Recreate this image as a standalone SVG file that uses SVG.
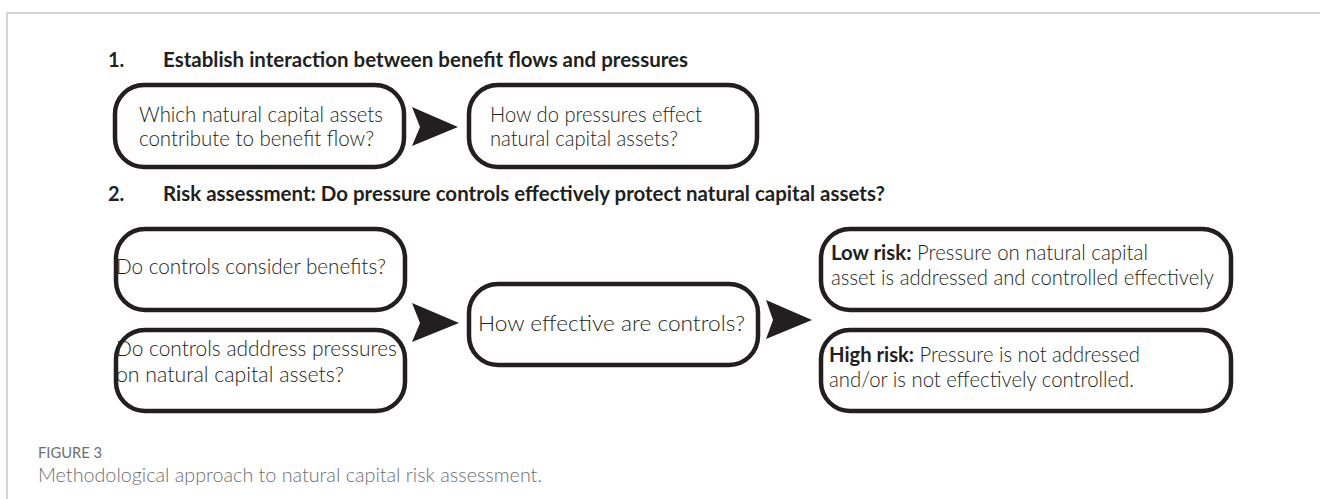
<svg xmlns="http://www.w3.org/2000/svg" width="1320" height="499" viewBox="0 0 1320 499">
<style>
.box{fill:#fff;stroke:#231f20;stroke-width:4.5}
.arr{fill:#231f20}
.t{font-family:Lato,"Open Sans","Liberation Sans",sans-serif;font-weight:300;font-size:21.5px;fill:#231f20}
.h{font-family:Lato,"Liberation Sans",sans-serif;font-weight:700;font-size:20px;fill:#231f20}
.b{font-weight:700}
.cap1{font-family:Lato,"Liberation Sans",sans-serif;font-weight:400;font-size:15px;fill:#6d6e70}
.cap2{font-family:Lato,"Liberation Sans",sans-serif;font-weight:300;font-size:19.5px;fill:#6d6e70}
</style>
<g id="frame"><path d="M7 499V13H1320" fill="none" stroke="#c8c8c8" stroke-width="1.5"/></g>
<g id="heading1"><text class="h" x="108" y="67">1.</text><text class="h" x="163" y="67" textLength="525" lengthAdjust="spacingAndGlyphs">Establish interaction between benefit flows and pressures</text></g>
<g id="heading2"><text class="h" x="108" y="201">2.</text><text class="h" x="163" y="201" textLength="722" lengthAdjust="spacingAndGlyphs">Risk assessment: Do pressure controls effectively protect natural capital assets?</text></g>
<g id="connectors">
<polygon class="arr" points="412,107 458,127 412,146 420,127"/>
<polygon class="arr" points="412,303 459,323 412,342 420,323"/>
<polygon class="arr" points="766,300 812,320 766,339 773,320"/>
</g>
<g id="n1"><rect class="box" x="115" y="85" width="289" height="82" rx="29"/>
<text class="t" x="139" y="122" textLength="244" lengthAdjust="spacingAndGlyphs">Which natural capital assets</text>
<text class="t" x="139" y="146" textLength="235" lengthAdjust="spacingAndGlyphs">contribute to benefit flow?</text></g>
<g id="n2"><rect class="box" x="469" y="85" width="288" height="82" rx="29"/>
<text class="t" x="490" y="122" textLength="212" lengthAdjust="spacingAndGlyphs">How do pressures effect</text>
<text class="t" x="490" y="146" textLength="188" lengthAdjust="spacingAndGlyphs">natural capital assets?</text></g>
<g id="n3"><rect class="box" x="116" y="229" width="289" height="81" rx="29"/>
<text class="t" x="116" y="274" textLength="270" lengthAdjust="spacingAndGlyphs">Do controls consider benefits?</text></g>
<g id="n4"><rect class="box" x="116" y="330" width="289" height="81" rx="29"/>
<text class="t" x="116" y="356" font-size="21" textLength="281" lengthAdjust="spacingAndGlyphs">Do controls adddress pressures</text>
<text class="t" x="116" y="382" font-size="21" textLength="228" lengthAdjust="spacingAndGlyphs">on natural capital assets?</text></g>
<g id="n5"><rect class="box" x="469" y="284" width="289" height="81" rx="29"/>
<text class="t" x="478" y="331" textLength="267" lengthAdjust="spacingAndGlyphs">How effective are controls?</text></g>
<g id="n6"><rect class="box" x="821" y="229" width="410" height="81" rx="29"/>
<text class="t" x="831" y="260" textLength="317" lengthAdjust="spacingAndGlyphs"><tspan class="b">Low risk:</tspan> Pressure on natural capital</text>
<text class="t" x="831" y="285" textLength="383" lengthAdjust="spacingAndGlyphs">asset is addressed and controlled effectively</text></g>
<g id="n7"><rect class="box" x="821" y="330" width="410" height="81" rx="29"/>
<text class="t" x="829" y="362" textLength="311" lengthAdjust="spacingAndGlyphs"><tspan class="b">High risk:</tspan> Pressure is not addressed</text>
<text class="t" x="829" y="387" textLength="305" lengthAdjust="spacingAndGlyphs">and/or is not effectively controlled.</text></g>
<g id="caption"><text class="cap1" x="38" y="458" textLength="64" lengthAdjust="spacingAndGlyphs">FIGURE 3</text>
<text class="cap2" x="38" y="482" textLength="504" lengthAdjust="spacingAndGlyphs">Methodological approach to natural capital risk assessment.</text></g>
</svg>
